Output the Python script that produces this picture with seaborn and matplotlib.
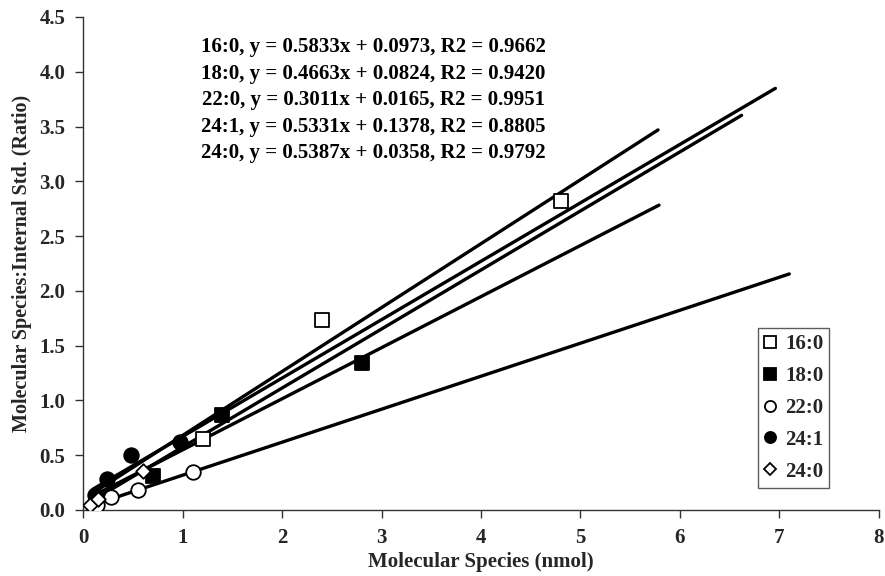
import matplotlib
matplotlib.use("Agg")
import matplotlib.pyplot as plt
from matplotlib.lines import Line2D
import numpy as np
import pandas as pd
import seaborn as sns

# Calibration points (amount vs. response ratio) for each molecular species
species = ["16:0", "18:0", "22:0", "24:1", "24:0"]

x_16_0 = [1.2, 2.4, 4.8]
y_16_0 = [0.65, 1.73, 2.82]

x_18_0 = [0.7, 1.4, 2.8]
y_18_0 = [0.31, 0.87, 1.34]

x_22_0 = [0.14, 0.275, 0.55, 1.1]
y_22_0 = [0.05, 0.12, 0.18, 0.35]

x_24_1 = [0.12, 0.24, 0.48, 0.97]
y_24_1 = [0.14, 0.28, 0.50, 0.62]

x_24_0 = [0.07, 0.15, 0.6]
y_24_0 = [0.05, 0.10, 0.36]

# Linear fits: slope, intercept, R2, and the drawn x-range of each trend line
slopes = [0.5833, 0.4663, 0.3011, 0.5331, 0.5387]
intercepts = [0.0973, 0.0824, 0.0165, 0.1378, 0.0358]
r2 = [0.9662, 0.9420, 0.9951, 0.8805, 0.9792]
line_start = [0.12, 0.17, 0.12, 0.10, 0.07]
line_end = [5.78, 5.79, 7.10, 6.96, 6.62]

xs = [x_16_0, x_18_0, x_22_0, x_24_1, x_24_0]
ys = [y_16_0, y_18_0, y_22_0, y_24_1, y_24_0]

points = pd.DataFrame({
    "amount": np.concatenate(xs),
    "ratio": np.concatenate(ys),
    "species": np.concatenate([[s] * len(v) for s, v in zip(species, xs)]),
})

fills = {"16:0": "white", "18:0": "black", "22:0": "white", "24:1": "black", "24:0": "white"}
shapes = {"16:0": "s", "18:0": "s", "22:0": "o", "24:1": "o", "24:0": "D"}
sizes = {"16:0": 95, "18:0": 95, "22:0": 110, "24:1": 110, "24:0": 55}

sns.set_theme(style="white")
plt.rcParams["font.family"] = ["Liberation Serif", "DejaVu Serif"]
plt.rcParams["font.weight"] = "bold"

fig = plt.figure(figsize=(8.85, 5.76), dpi=100)
ax = fig.add_axes([0.094, 0.1146, 0.899, 0.856])

# Trend lines from each fitted equation
for s, m, b, x0, x1 in zip(species, slopes, intercepts, line_start, line_end):
    lx = np.array([x0, x1])
    sns.lineplot(x=lx, y=m * lx + b, color="black", linewidth=2.4, ax=ax,
                 legend=False, zorder=2)

# Data points
for s in species:
    sub = points[points["species"] == s]
    sns.scatterplot(data=sub, x="amount", y="ratio", marker=shapes[s],
                    s=sizes[s], color=fills[s], edgecolor="black",
                    linewidth=1.3, ax=ax, legend=False, zorder=3)

# Fit equations
eq_y = [4.23, 3.98, 3.74, 3.50, 3.26]
for s, m, b, r, ty in zip(species, slopes, intercepts, r2, eq_y):
    ax.text(2.92, ty, f"{s}, y = {m:.4f}x + {b:.4f}, R2 = {r:.4f}",
            ha="center", va="center", fontsize=15, fontweight="bold",
            color="black", zorder=4)

ax.set_xlim(0, 8)
ax.set_ylim(0, 4.5)
ax.set_xticks(range(0, 9))
ax.set_yticks(np.arange(0, 4.51, 0.5))
ax.set_yticklabels([f"{v:.1f}" for v in np.arange(0, 4.51, 0.5)])
ax.tick_params(axis="both", which="major", direction="out", length=6, width=1,
               color="#333333", labelsize=15, bottom=True, left=True, pad=7)
for lbl in ax.get_xticklabels() + ax.get_yticklabels():
    lbl.set_fontweight("bold")

ax.set_xlabel("Molecular Species (nmol)", fontsize=15, fontweight="bold", labelpad=3)
ax.set_ylabel("Molecular Species:Internal Std. (Ratio)", fontsize=14.5,
              fontweight="bold", labelpad=5)

for side in ["top", "right"]:
    ax.spines[side].set_visible(False)
for side in ["left", "bottom"]:
    ax.spines[side].set_color("#333333")
    ax.spines[side].set_linewidth(1.0)

handles = [
    Line2D([], [], linestyle="none", marker=shapes[s], markersize=8 if s != "24:0" else 6.5,
           markerfacecolor=fills[s], markeredgecolor="black", markeredgewidth=1.3)
    for s in species
]
leg = ax.legend(handles, species, loc="lower right", bbox_to_anchor=(0.938, 0.045),
                borderaxespad=0, frameon=True, fancybox=False, handlelength=0.6,
                handletextpad=0.4, labelspacing=0.57, borderpad=0.3,
                prop={"weight": "bold", "size": 15})
leg.get_frame().set_edgecolor("#333333")
leg.get_frame().set_linewidth(1.0)

fig.savefig("out.png", dpi=100)
